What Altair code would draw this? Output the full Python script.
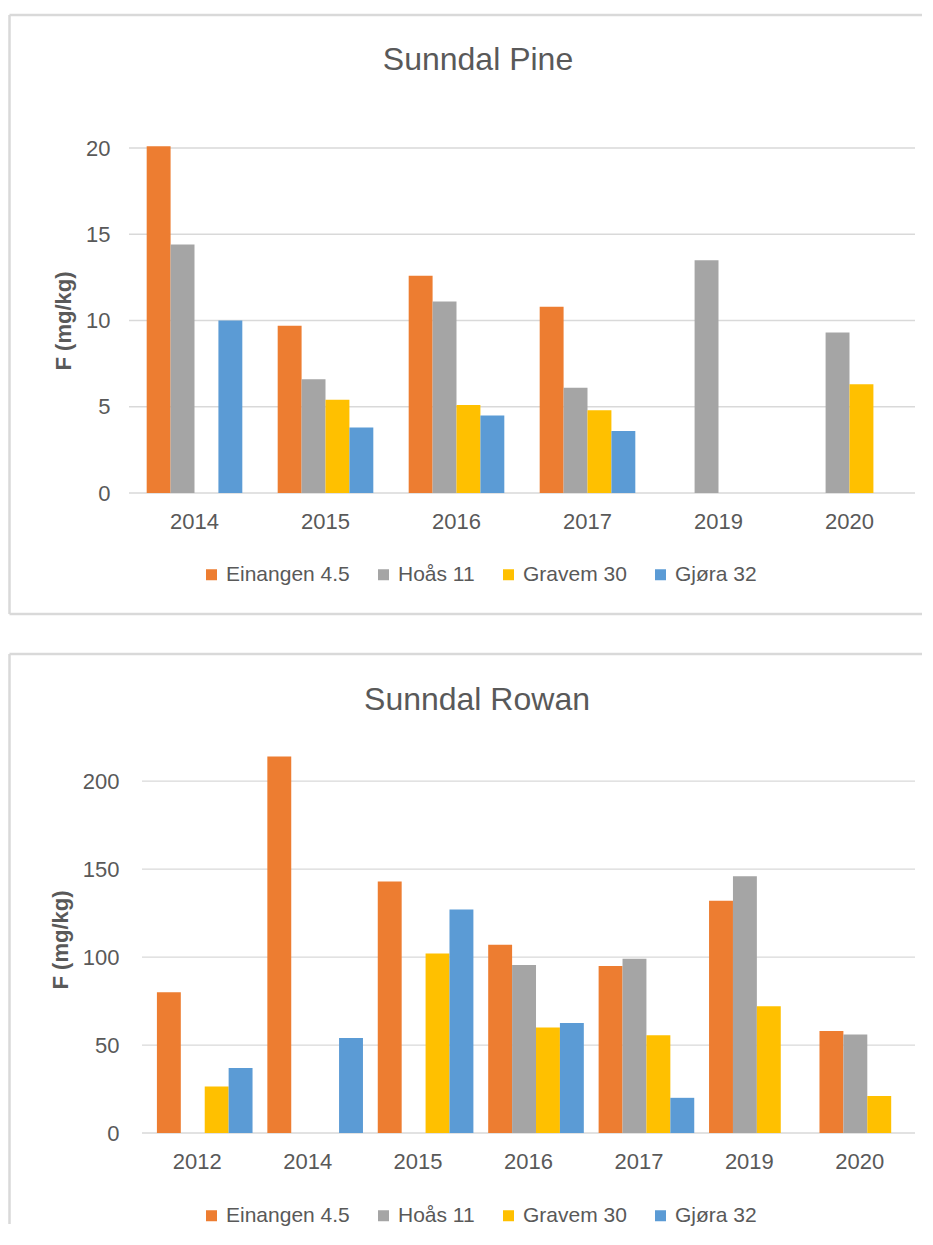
import altair as alt
import pandas as pd

SERIES = ["Einangen 4.5", "Hoås 11", "Gravem 30", "Gjøra 32"]
COLORS = ["#ED7D31", "#A5A5A5", "#FFC000", "#5B9BD5"]

PINE_YEARS = ["2014", "2015", "2016", "2017", "2019", "2020"]
PINE_EINANGEN = [20.1, 9.7, 12.6, 10.8, None, None]
PINE_HOAS = [14.4, 6.6, 11.1, 6.1, 13.5, 9.3]
PINE_GRAVEM = [None, 5.4, 5.1, 4.8, None, 6.3]
PINE_GJORA = [10.0, 3.8, 4.5, 3.6, None, None]
PINE_TICKS = [0, 5, 10, 15, 20]

ROWAN_YEARS = ["2012", "2014", "2015", "2016", "2017", "2019", "2020"]
ROWAN_EINANGEN = [80, 214, 143, 107, 95, 132, 58]
ROWAN_HOAS = [None, None, None, 95.5, 99, 146, 56]
ROWAN_GRAVEM = [26.5, None, 102, 60, 55.5, 72, 21]
ROWAN_GJORA = [37, 54, 127, 62.5, 20, None, None]
ROWAN_TICKS = [0, 50, 100, 150, 200]

FONT = "Liberation Sans"
TEXT = "#595959"
GRID = "#D9D9D9"
BORDER = "#D9D9D9"
W = 786


def to_long(years, cols):
    rows = []
    for s, vals in zip(SERIES, cols):
        for y, v in zip(years, vals):
            if v is not None:
                rows.append({"year": y, "series": s, "value": v})
    return pd.DataFrame(rows)


def panel(df, years, title, ticks, ymax, h, x0, bx, btop, bbot, bx2,
          tx, ty, atx, lpad, lx, ly, draw_bottom):
    yscale = alt.Scale(domain=[0, ymax], nice=False, zero=True)
    yaxis = alt.Axis(values=ticks, title="F (mg/kg)", grid=False,
                     domain=False, ticks=False,
                     labelFontSize=22, labelColor=TEXT, labelFont=FONT,
                     labelPadding=lpad, titleFont=FONT, titleFontSize=22,
                     titleFontWeight="bold", titleColor=TEXT, titleX=atx,
                     titleY=h / 2, titleAlign="center", titleBaseline="middle",
                     titleAngle=270)
    grid = alt.Chart(pd.DataFrame({"value": ticks})).mark_rule(
        color=GRID, strokeWidth=1.3
    ).encode(
        y=alt.Y("value:Q", scale=yscale, axis=yaxis),
        x=alt.value(x0), x2=alt.value(W),
    )
    bars = alt.Chart(df).mark_bar().encode(
        x=alt.X("year:N", sort=years,
                scale=alt.Scale(domain=years, range=[x0, W],
                                paddingInner=0.27, paddingOuter=0.135),
                axis=alt.Axis(title=None, labelAngle=0, ticks=False, domain=False,
                              grid=False, labelFontSize=22, labelColor=TEXT,
                              labelFont=FONT, labelPadding=28, labelBaseline="middle")),
        xOffset=alt.XOffset("series:N",
                            scale=alt.Scale(domain=SERIES, paddingInner=0, paddingOuter=0)),
        y=alt.Y("value:Q", scale=yscale, axis=yaxis),
        color=alt.Color("series:N", scale=alt.Scale(domain=SERIES, range=COLORS),
                        legend=alt.Legend(title=None, orient="none", legendX=lx, legendY=ly,
                                          direction="horizontal", columns=4,
                                          columnPadding=23, labelOffset=4,
                                          symbolType="square", symbolSize=121,
                                          symbolStrokeWidth=0, labelFontSize=21,
                                          labelFont=FONT, labelColor=TEXT, padding=0,
                                          labelLimit=0)),
    )
    deco = alt.Chart(pd.DataFrame({"k": [0]}))
    layers = [grid, bars]
    layers.append(deco.mark_rule(color=BORDER, strokeWidth=2.5).encode(
        x=alt.value(bx), y=alt.value(btop), y2=alt.value(bbot)))
    layers.append(deco.mark_rule(color=BORDER, strokeWidth=2.5).encode(
        x=alt.value(bx), x2=alt.value(bx2), y=alt.value(btop)))
    if draw_bottom:
        layers.append(deco.mark_rule(color=BORDER, strokeWidth=2.5).encode(
            x=alt.value(bx), x2=alt.value(bx2), y=alt.value(bbot)))
    layers.append(deco.mark_text(text=title, font=FONT, fontSize=32, color=TEXT,
                                 align="center", baseline="middle").encode(
        x=alt.value(tx), y=alt.value(ty)))
    return alt.layer(*layers).properties(width=W, height=h)


pine = panel(to_long(PINE_YEARS, [PINE_EINANGEN, PINE_HOAS, PINE_GRAVEM, PINE_GJORA]),
             PINE_YEARS, "Sunndal Pine", PINE_TICKS, 20, 345, 0,
             -119.5, -133, 466, 793, 349, -88, -66, 19, 72, 416, True)

rowan = panel(to_long(ROWAN_YEARS, [ROWAN_EINANGEN, ROWAN_HOAS, ROWAN_GRAVEM, ROWAN_GJORA]),
              ROWAN_YEARS, "Sunndal Rowan", ROWAN_TICKS, 220, 387, 13,
              -119.5, -92, 478, 793, 348, -46, -69, 10, 72, 459, False)

chart = alt.vconcat(pine, rowan, spacing=36).resolve_scale(
    color="independent"
).configure_view(stroke=None).properties(
    padding={"left": 0, "top": 5, "right": 0, "bottom": 0}, background="white"
)

chart.save("out.html", embed_options={"renderer": "svg", "actions": False})
